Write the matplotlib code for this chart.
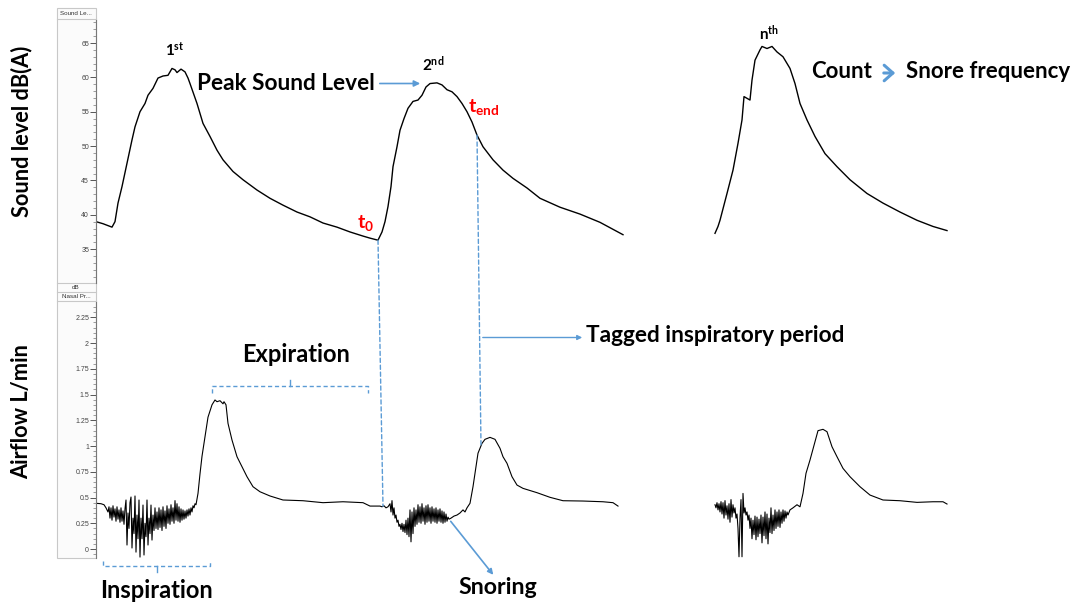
import numpy as np
import matplotlib
matplotlib.use("Agg")
import matplotlib.pyplot as plt
from matplotlib.patches import Rectangle, ConnectionPatch
from matplotlib.lines import Line2D

# sound level trace, 1st and 2nd snore: (time s, dB(A))
sound_a = [(0.0, 39.0), (0.7, 38.7), (1.6, 38.2), (1.9, 39.0), (2.2, 41.7), (2.6, 44.1),
           (3.1, 47.5), (3.6, 50.9), (3.9, 52.8), (4.4, 55.0), (4.9, 56.2), (5.2, 57.4),
           (5.7, 58.4), (6.2, 59.9), (6.7, 60.2), (7.2, 60.3), (7.6, 61.3), (7.9, 61.1),
           (8.1, 60.7), (8.5, 61.2), (8.9, 60.8), (9.2, 59.9), (9.4, 59.1), (10.1, 56.2),
           (10.7, 53.3), (11.4, 51.4), (12.1, 49.4), (12.7, 48.0), (13.7, 46.3), (14.7, 45.1),
           (16.1, 43.6), (17.4, 42.4), (18.7, 41.4), (20.1, 40.4), (21.4, 39.7), (22.7, 38.8),
           (24.1, 38.2), (25.4, 37.5), (26.7, 36.9), (27.4, 36.6), (28.2, 36.3), (28.6, 37.5),
           (28.9, 39.0), (29.2, 41.2), (29.5, 44.1), (29.7, 47.0), (30.1, 49.9), (30.4, 52.3),
           (30.8, 54.0), (31.2, 55.5), (31.7, 56.5), (32.2, 56.7), (32.6, 57.4), (33.0, 58.6),
           (33.4, 59.1), (34.1, 59.2), (34.6, 58.9), (35.1, 58.2), (35.6, 57.9), (36.1, 57.2),
           (36.6, 56.2), (37.1, 55.0), (37.6, 53.5), (38.1, 51.6), (38.7, 49.9), (39.7, 48.0),
           (40.7, 46.5), (41.7, 45.3), (43.1, 43.9), (44.4, 42.4), (46.4, 41.1), (48.4, 40.1),
           (50.4, 38.9), (52.7, 37.1)]

# sound level trace, nth snore
sound_b = [(61.9, 37.3), (62.2, 38.3), (62.4, 39.2), (63.1, 43.1), (63.7, 46.5), (64.2, 50.4),
           (64.6, 53.8), (64.8, 57.2), (65.4, 56.7), (65.6, 59.6), (65.9, 62.5), (66.4, 64.0),
           (66.6, 64.5), (67.1, 64.2), (67.6, 64.5), (68.1, 63.7), (68.7, 63.0), (69.4, 61.3),
           (69.9, 59.1), (70.4, 56.2), (71.1, 53.8), (71.9, 51.4), (72.9, 48.9), (74.1, 47.0),
           (75.4, 45.1), (77.1, 43.1), (78.7, 41.7), (80.4, 40.4), (82.1, 39.2), (83.7, 38.3),
           (85.1, 37.7)]

# nasal pressure airflow, 1st and 2nd breath: (time s, L/min)
air_a = [(0.0, 0.444), (0.5, 0.44), (0.8, 0.43), (1.0, 0.40), (1.2, 0.36), (1.3, 0.41),
         (1.4, 0.30), (1.5, 0.40), (1.6, 0.28), (1.7, 0.42), (1.8, 0.31), (1.9, 0.39),
         (2.0, 0.27), (2.1, 0.41), (2.2, 0.29), (2.3, 0.38), (2.4, 0.26), (2.5, 0.40),
         (2.6, 0.27), (2.7, 0.37), (2.8, 0.24), (2.9, 0.39), (3.0, 0.476), (3.1, 0.039),
         (3.2, 0.35), (3.3, 0.20), (3.4, 0.45), (3.5, 0.505), (3.6, 0.01), (3.7, 0.30),
         (3.8, 0.15), (3.9, 0.515), (4.0, -0.03), (4.1, 0.33), (4.2, 0.10), (4.3, 0.476),
         (4.4, -0.078), (4.5, 0.30), (4.6, 0.10), (4.7, 0.427), (4.8, -0.058), (4.9, 0.25),
         (5.0, 0.12), (5.1, 0.476), (5.2, 0.039), (5.3, 0.30), (5.4, 0.15), (5.5, 0.427),
         (5.6, 0.087), (5.7, 0.33), (5.8, 0.18), (5.9, 0.40), (6.0, 0.20), (6.1, 0.36),
         (6.2, 0.19), (6.3, 0.40), (6.4, 0.21), (6.5, 0.38), (6.6, 0.18), (6.7, 0.41),
         (6.8, 0.22), (6.9, 0.37), (7.0, 0.20), (7.1, 0.42), (7.2, 0.25), (7.3, 0.39),
         (7.4, 0.24), (7.5, 0.43), (7.6, 0.27), (7.7, 0.40), (7.8, 0.25), (7.9, 0.47),
         (8.0, 0.28), (8.1, 0.44), (8.2, 0.27), (8.3, 0.41), (8.4, 0.26), (8.5, 0.39),
         (8.6, 0.28), (8.7, 0.38), (8.8, 0.29), (8.9, 0.37), (9.0, 0.30), (9.1, 0.38),
         (9.2, 0.32), (9.3, 0.39), (9.4, 0.33), (9.5, 0.40), (9.6, 0.36), (9.7, 0.42),
         (9.8, 0.40), (9.9, 0.44), (10.0, 0.43), (10.2, 0.54), (10.4, 0.73), (10.6, 0.90),
         (10.9, 1.09), (11.2, 1.28), (11.6, 1.40), (11.9, 1.447), (12.1, 1.43), (12.4, 1.44),
         (12.7, 1.41), (12.8, 1.43), (13.0, 1.40), (13.2, 1.22), (13.6, 1.058), (14.1, 0.896),
         (14.6, 0.799), (15.1, 0.702), (15.7, 0.605), (16.4, 0.556), (17.4, 0.515),
         (18.7, 0.476), (20.7, 0.469), (22.7, 0.450), (24.7, 0.459), (26.7, 0.450),
         (27.4, 0.417), (28.4, 0.417), (28.6, 0.41), (28.8, 0.42), (29.0, 0.40), (29.2, 0.41),
         (29.4, 0.44), (29.5, 0.36), (29.6, 0.47), (29.7, 0.33), (29.8, 0.40), (29.9, 0.30),
         (30.0, 0.33), (30.1, 0.26), (30.2, 0.28), (30.3, 0.22), (30.4, 0.24), (30.5, 0.19),
         (30.6, 0.25), (30.7, 0.17), (30.8, 0.24), (30.9, 0.16), (31.0, 0.28), (31.1, 0.14),
         (31.2, 0.30), (31.3, 0.12), (31.4, 0.38), (31.5, 0.07), (31.6, 0.36), (31.7, 0.15),
         (31.8, 0.40), (31.9, 0.22), (32.0, 0.38), (32.1, 0.24), (32.2, 0.43), (32.3, 0.26),
         (32.4, 0.41), (32.5, 0.25), (32.6, 0.44), (32.7, 0.27), (32.8, 0.40), (32.9, 0.24),
         (33.0, 0.42), (33.1, 0.26), (33.2, 0.43), (33.3, 0.27), (33.4, 0.40), (33.5, 0.25),
         (33.6, 0.41), (33.7, 0.27), (33.8, 0.39), (33.9, 0.26), (34.0, 0.40), (34.1, 0.25),
         (34.2, 0.38), (34.3, 0.27), (34.4, 0.39), (34.5, 0.26), (34.6, 0.37), (34.7, 0.25),
         (34.8, 0.36), (34.9, 0.26), (35.0, 0.34), (35.1, 0.27), (35.2, 0.31), (35.3, 0.29),
         (35.5, 0.30), (35.8, 0.32), (36.1, 0.33), (36.4, 0.35), (36.7, 0.38), (36.9, 0.36),
         (37.1, 0.40), (37.4, 0.444), (37.7, 0.605), (38.0, 0.80), (38.2, 0.93), (38.6, 1.026),
         (38.9, 1.065), (39.4, 1.084), (39.9, 1.065), (40.4, 0.978), (40.7, 0.896),
         (41.1, 0.832), (41.6, 0.702), (42.1, 0.621), (42.7, 0.589), (44.1, 0.547),
         (45.4, 0.502), (46.7, 0.469), (48.7, 0.466), (50.7, 0.459), (51.7, 0.450),
         (52.2, 0.417)]

# nasal pressure airflow, nth breath
air_b = [(61.9, 0.43), (62.0, 0.40), (62.1, 0.45), (62.2, 0.38), (62.3, 0.44), (62.4, 0.36),
         (62.5, 0.46), (62.6, 0.34), (62.7, 0.45), (62.8, 0.30), (62.9, 0.47), (63.0, 0.33),
         (63.1, 0.42), (63.2, 0.29), (63.3, 0.44), (63.4, 0.26), (63.5, 0.48), (63.6, 0.31),
         (63.7, 0.43), (63.8, 0.35), (63.9, 0.40), (64.0, 0.30), (64.1, 0.34), (64.2, 0.20),
         (64.3, -0.075), (64.4, 0.30), (64.5, 0.48), (64.6, -0.075), (64.7, 0.54), (64.8, 0.35),
         (64.9, 0.40), (65.0, 0.33), (65.1, 0.36), (65.2, 0.28), (65.3, 0.33), (65.4, 0.20),
         (65.5, 0.30), (65.6, 0.10), (65.7, 0.28), (65.8, 0.14), (65.9, 0.32), (66.0, 0.09),
         (66.1, 0.31), (66.2, 0.12), (66.3, 0.29), (66.4, 0.15), (66.5, 0.33), (66.6, 0.06),
         (66.7, 0.31), (66.8, 0.13), (66.9, 0.36), (67.0, 0.10), (67.1, 0.34), (67.2, 0.05),
         (67.3, 0.30), (67.4, 0.16), (67.5, 0.40), (67.6, 0.15), (67.7, 0.33), (67.8, 0.18),
         (67.9, 0.38), (68.0, 0.20), (68.1, 0.36), (68.2, 0.22), (68.3, 0.38), (68.4, 0.21),
         (68.5, 0.36), (68.6, 0.25), (68.7, 0.38), (68.8, 0.27), (68.9, 0.37), (69.0, 0.30),
         (69.1, 0.36), (69.2, 0.33), (69.4, 0.38), (69.7, 0.40), (70.1, 0.43), (70.4, 0.41),
         (70.7, 0.54), (71.0, 0.735), (71.4, 0.864), (71.9, 1.042), (72.2, 1.149),
         (72.7, 1.162), (73.1, 1.139), (73.6, 0.993), (74.1, 0.896), (74.7, 0.783),
         (75.4, 0.702), (76.4, 0.605), (77.4, 0.524), (78.7, 0.476), (80.4, 0.469),
         (82.1, 0.453), (83.7, 0.459), (84.7, 0.459), (85.1, 0.437)]

sound_ticks = [35, 40, 45, 50, 55, 60, 65]
flow_ticks = [0, 0.25, 0.5, 0.75, 1, 1.25, 1.5, 1.75, 2, 2.25]
flow_tick_labels = ["0", "0.25", "0.5", "0.75", "1", "1.25", "1.5", "1.75", "2", "2.25"]

# tagged inspiratory period of the 2nd snore
t_start = 28.2
t_end = 38.1
snore_time = 35.3

W, H = 1081, 606
BLUE = "#5b9bd5"
plt.rcParams['font.family'] = ['Lato', 'DejaVu Sans']
plt.rcParams['mathtext.fontset'] = 'custom'
plt.rcParams['mathtext.rm'] = 'Lato'
plt.rcParams['mathtext.bf'] = 'Lato:bold'
plt.rcParams['mathtext.it'] = 'Lato:italic'

fig = plt.figure(figsize=(W / 100, H / 100), dpi=100)


def fx(px):
    return px / W


def fy(py):
    return 1 - py / H


# channel strip on the left, as in the recording software
fig.add_artist(Rectangle((fx(57), fy(558)), fx(96) - fx(57), (558 - 8) / H,
                         transform=fig.transFigure, facecolor="#fbfbfb",
                         edgecolor="#c8c8c8", lw=0.8, zorder=-1))
for py in [19, 283, 292, 301]:
    fig.add_artist(Line2D([fx(57), fx(96)], [fy(py), fy(py)], transform=fig.transFigure,
                          color="#c8c8c8", lw=0.8, zorder=-1))
fig.text(fx(76), fy(13.5), "Sound Le...", fontsize=4.5, family="Liberation Sans",
         ha="center", va="center", color="#333333")
fig.text(fx(76), fy(287.5), "dB", fontsize=4.5, family="Liberation Sans",
         ha="center", va="center", color="#333333")
fig.text(fx(76), fy(296.5), "Nasal Pr...", fontsize=4.5, family="Liberation Sans",
         ha="center", va="center", color="#333333")

ax_top = fig.add_axes([fx(96), fy(283), 1 - fx(96), (283 - 20) / H])
ax_bot = fig.add_axes([fx(96), fy(558), 1 - fx(96), (558 - 302) / H])

for ax in (ax_top, ax_bot):
    ax.patch.set_alpha(0)
    for side in ["top", "right", "bottom"]:
        ax.spines[side].set_visible(False)
    ax.spines["left"].set_color("#777777")
    ax.spines["left"].set_linewidth(0.8)
    ax.set_xticks([])
    ax.set_xlim(0, 98.5)
    ax.tick_params(axis="y", which="major", length=4, width=0.7, color="#555555",
                   labelsize=5, labelcolor="#444444", pad=1)
    ax.tick_params(axis="y", which="minor", length=2, width=0.5, color="#777777")

ax_top.set_ylim(30.07, 68.35)
ax_top.set_yticks(sound_ticks)
ax_top.set_yticks(np.arange(31, 69, 1), minor=True)

ax_bot.set_ylim(-0.087, 2.398)
ax_bot.set_yticks(flow_ticks, flow_tick_labels)
ax_bot.set_yticks(np.arange(-0.05, 2.4, 0.05), minor=True)

for ax in (ax_top, ax_bot):
    for lab in ax.get_yticklabels():
        lab.set_family("Liberation Sans")

for seg in (sound_a, sound_b):
    t, y = zip(*seg)
    ax_top.plot(t, y, color="black", lw=1.0)
for seg in (air_a, air_b):
    t, y = zip(*seg)
    ax_bot.plot(t, y, color="black", lw=0.8)

# axis titles
fig.text(fx(22), fy(131), "Sound level dB(A)", rotation=90, fontsize=15.7, fontweight="bold",
         ha="center", va="center")
fig.text(fx(22), fy(412), "Airflow L/min", rotation=90, fontsize=15.7, fontweight="bold",
         ha="center", va="center")

# snore numbering
fig.text(fx(175), fy(50), r"$\mathbf{1}^{\mathbf{st}}$", fontsize=11, ha="center", va="center")
fig.text(fx(433), fy(64), r"$\mathbf{2}^{\mathbf{nd}}$", fontsize=11, ha="center", va="center")
fig.text(fx(769), fy(33), r"$\mathbf{n}^{\mathbf{th}}$", fontsize=11, ha="center", va="center")

# t0 / tend
fig.text(fx(366), fy(223), r"$\mathbf{t}_{\mathbf{0}}$", fontsize=14, color="#ff0000",
         ha="center", va="center")
fig.text(fx(484), fy(107), r"$\mathbf{t}_{\mathbf{end}}$", fontsize=14, color="#ff0000",
         ha="center", va="center")

# Peak sound level
fig.text(fx(197), fy(83), "Peak Sound Level", fontsize=16.3, fontweight="bold",
         ha="left", va="center")
ax_top.annotate("", xy=(423, H - 83.5), xycoords="figure pixels",
                xytext=(377, H - 83.5), textcoords="figure pixels",
                arrowprops=dict(arrowstyle="-|>", color=BLUE, lw=1.2, mutation_scale=9))

# Count -> Snore frequency
fig.text(fx(811), fy(72), "Count", fontsize=16, fontweight="bold", ha="left", va="center")
fig.text(fx(906), fy(72), "Snore frequency", fontsize=16, fontweight="bold",
         ha="left", va="center")
ax_top.annotate("", xy=(898, H - 73), xycoords="figure pixels",
                xytext=(881, H - 73), textcoords="figure pixels",
                arrowprops=dict(arrowstyle="->,head_length=0.45,head_width=0.4",
                                color=BLUE, lw=2.2, mutation_scale=14))

# dashed lines linking the tagged period to the airflow trace
snd_t, snd_y = zip(*sound_a)
air_t, air_y = zip(*air_a)
for ta, tb in [(t_start, t_start + 0.5), (t_end, t_end + 0.4)]:
    con = ConnectionPatch(xyA=(ta, np.interp(ta, snd_t, snd_y)), coordsA=ax_top.transData,
                          xyB=(tb, np.interp(tb, air_t, air_y)), coordsB=ax_bot.transData,
                          color=BLUE, lw=1.0, linestyle=(0, (3, 2)))
    fig.add_artist(con)

# Tagged inspiratory period
ax_bot.annotate("", xy=(585, H - 337.5), xycoords="figure pixels",
                xytext=(480, H - 337.5), textcoords="figure pixels",
                arrowprops=dict(arrowstyle="-|>", color=BLUE, lw=1.0, mutation_scale=7))
fig.text(fx(586), fy(335), "Tagged inspiratory period", fontsize=16.3, fontweight="bold",
         ha="left", va="center")

# Expiration bracket
bx0, bx1, by = 212, 368, 386
fig.add_artist(Line2D([fx(bx0), fx(bx0), fx(bx1), fx(bx1)],
                      [fy(393), fy(by), fy(by), fy(393)], transform=fig.transFigure,
                      color=BLUE, lw=1.0, linestyle=(0, (3, 2))))
fig.add_artist(Line2D([fx(290), fx(290)], [fy(by), fy(380)], transform=fig.transFigure,
                      color=BLUE, lw=1.0))
fig.text(fx(296), fy(354), "Expiration", fontsize=17, fontweight="bold",
         ha="center", va="center")

# Inspiration bracket
ix0, ix1, iy = 103, 210, 566
fig.add_artist(Line2D([fx(ix0), fx(ix0), fx(ix1), fx(ix1)],
                      [fy(561), fy(iy), fy(iy), fy(561)], transform=fig.transFigure,
                      color=BLUE, lw=1.0, linestyle=(0, (3, 2))))
fig.add_artist(Line2D([fx(157), fx(157)], [fy(iy), fy(572)], transform=fig.transFigure,
                      color=BLUE, lw=1.0))
fig.text(fx(157), fy(591), "Inspiration", fontsize=17, fontweight="bold",
         ha="center", va="center")

# Snoring
ax_bot.annotate("", xy=(495, H - 577), xycoords="figure pixels",
                xytext=(snore_time, np.interp(snore_time, air_t, air_y)), textcoords="data",
                arrowprops=dict(arrowstyle="-|>", color=BLUE, lw=1.2, mutation_scale=8))
fig.text(fx(498), fy(588), "Snoring", fontsize=16.7, fontweight="bold",
         ha="center", va="center")

fig.savefig("out.png", dpi=100)
